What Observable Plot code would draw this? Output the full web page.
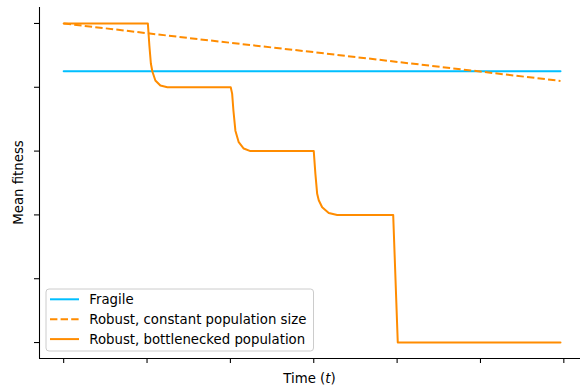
<!DOCTYPE html>
<html>
<head>
<meta charset="utf-8">
<script src="https://cdn.jsdelivr.net/npm/d3@7"></script>
<script src="https://cdn.jsdelivr.net/npm/@observablehq/plot@0.6"></script>
<style>
  html, body { margin: 0; padding: 0; background: white; }
  #chart { width: 580px; height: 390px; }
</style>
</head>
<body>
<div id="chart"></div>
<script>
// ---- data ----
const xTicks = [0, 1, 2, 3, 4, 5, 6];
const yTicks = [0, 1, 2, 3, 4, 5];

const seriesNames = ["Fragile", "Robust, constant population size", "Robust, bottlenecked population"];
const seriesColors = ["#00bfff", "#ff8c00", "#ff8c00"];

const fragileT = [0, 5.96];
const fragileFitness = [4.25, 4.25];

const constantT = [0, 1.64, 3, 5.96];
const constantFitness = [5.0, 4.75, 4.55, 4.1];

const bottleneckT = [0, 1.01, 1.028, 1.046, 1.064, 1.10, 1.16, 1.244, 2.004, 2.021, 2.036, 2.06, 2.10, 2.16, 2.24,
                     3.0, 3.02, 3.041, 3.06, 3.101, 3.18, 3.281, 3.953, 4.008, 5.96];
const bottleneckFitness = [5, 5, 4.655, 4.373, 4.248, 4.107, 4.028, 4.0, 4.0, 3.90, 3.64, 3.32, 3.14, 3.04, 3.0,
                           3.0, 2.64, 2.33, 2.23, 2.12, 2.03, 2.0, 2.0, 0, 0];

const xDomain = [-0.29, 6.2];
const yDomain = [-0.25, 5.25];

const zip = (ts, ys) => ts.map((t, i) => ({t, y: ys[i]}));
const fragile = zip(fragileT, fragileFitness);
const constant = zip(constantT, constantFitness);
const bottleneck = zip(bottleneckT, bottleneckFitness);

const FONT = "DejaVu Sans";
const FS = 13.3;

const plot = Plot.plot({
  width: 580,
  height: 390,
  marginLeft: 39,
  marginRight: 0,
  marginTop: 7,
  marginBottom: 32,
  x: {domain: xDomain},
  y: {domain: yDomain},
  style: {fontFamily: FONT, fontSize: FS + "px", background: "white", color: "black"},
  marks: [
    Plot.axisX({ticks: xTicks, tickSize: 5, tickFormat: () => "", label: null, stroke: "black", strokeWidth: 1.07, strokeOpacity: 1}),
    Plot.axisY({ticks: yTicks, tickSize: 5, tickFormat: () => "", label: null, stroke: "black", strokeWidth: 1.07, strokeOpacity: 1}),
    Plot.ruleX([xDomain[0]], {stroke: "black", strokeWidth: 1.07}),
    Plot.ruleY([yDomain[0]], {stroke: "black", strokeWidth: 1.07}),
    Plot.line(fragile, {x: "t", y: "y", stroke: seriesColors[0], strokeWidth: 2}),
    Plot.line(constant, {x: "t", y: "y", stroke: seriesColors[1], strokeWidth: 2, strokeDasharray: "7.4,3.2", strokeLinecap: "butt"}),
    Plot.line(bottleneck, {x: "t", y: "y", stroke: seriesColors[2], strokeWidth: 2})
  ]
});

document.getElementById("chart").appendChild(plot);

// ---- axis labels and legend ----
const svg = d3.select(plot);

svg.append("text")
  .attr("transform", "translate(23,182.5) rotate(-90)")
  .attr("text-anchor", "middle")
  .attr("font-family", FONT)
  .attr("font-size", FS)
  .attr("fill", "black")
  .text("Mean fitness");

const xl = svg.append("text")
  .attr("x", 309.5)
  .attr("y", 383.3)
  .attr("text-anchor", "middle")
  .attr("font-family", FONT)
  .attr("font-size", FS)
  .attr("fill", "black");
xl.append("tspan").text("Time (");
xl.append("tspan").attr("font-style", "italic").text("t");
xl.append("tspan").text(")");

const lg = svg.append("g");
lg.append("rect")
  .attr("x", 46).attr("y", 289)
  .attr("width", 267.5).attr("height", 62)
  .attr("rx", 3).attr("ry", 3)
  .attr("fill", "white").attr("fill-opacity", 0.8)
  .attr("stroke", "#cccccc").attr("stroke-width", 1);

const dashes = [null, "7.4,3.2", null];
seriesNames.forEach((name, i) => {
  const yy = 299.3 + i * 19.9;
  lg.append("line")
    .attr("x1", 50).attr("x2", 79)
    .attr("y1", yy).attr("y2", yy)
    .attr("stroke", seriesColors[i])
    .attr("stroke-width", 2)
    .attr("stroke-dasharray", dashes[i]);
  lg.append("text")
    .attr("x", 89.3).attr("y", yy)
    .attr("dy", "0.36em")
    .attr("text-anchor", "start")
    .attr("font-family", FONT)
    .attr("font-size", FS)
    .attr("fill", "black")
    .text(name);
});
</script>
</body>
</html>
